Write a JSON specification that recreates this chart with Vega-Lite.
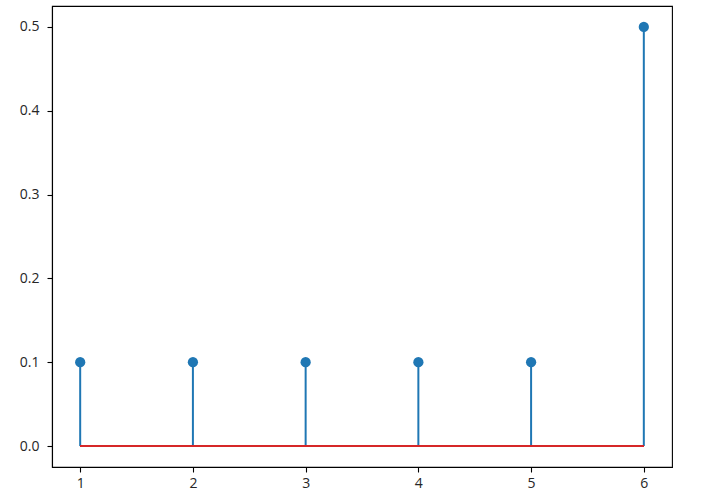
{
  "$schema": "https://vega.github.io/schema/vega-lite/v6.json",
  "autosize": {"type": "none"},
  "padding": {"left": 52, "top": 6, "right": 43, "bottom": 35},
  "width": 620,
  "height": 461,
  "background": "white",
  "config": {
    "view": {"stroke": "#000000", "strokeWidth": 1.1},
    "axis": {
      "grid": false,
      "domainColor": "#000000",
      "domainWidth": 1.1,
      "tickColor": "#000000",
      "tickWidth": 1.1,
      "tickSize": 5,
      "labelFont": "Open Sans",
      "labelFontSize": 14,
      "labelColor": "#262626",
      "title": null
    }
  },
  "data": {"values": [
    {"x": 1, "y": 0.1},
    {"x": 2, "y": 0.1},
    {"x": 3, "y": 0.1},
    {"x": 4, "y": 0.1},
    {"x": 5, "y": 0.1},
    {"x": 6, "y": 0.5}
  ]},
  "encoding": {
    "x": {"field": "x", "type": "quantitative",
      "scale": {"domain": [0.75, 6.25], "nice": false, "zero": false},
      "axis": {"values": [1, 2, 3, 4, 5, 6], "format": "d", "labelPadding": 4}},
    "y": {"field": "y", "type": "quantitative",
      "scale": {"domain": [-0.025, 0.525], "nice": false, "zero": false},
      "axis": {"values": [0, 0.1, 0.2, 0.3, 0.4, 0.5], "format": ".1f", "labelPadding": 8}}
  },
  "layer": [
    {"mark": {"type": "rule", "color": "#1f77b4", "strokeWidth": 2},
     "encoding": {"y2": {"datum": 0}}},
    {"mark": {"type": "rule", "color": "#d62728", "strokeWidth": 2},
     "encoding": {"x": {"datum": 1}, "x2": {"datum": 6}, "y": {"datum": 0}}},
    {"mark": {"type": "point", "shape": "circle", "filled": true, "opacity": 1, "color": "#1f77b4", "size": 105}}
  ]
}
